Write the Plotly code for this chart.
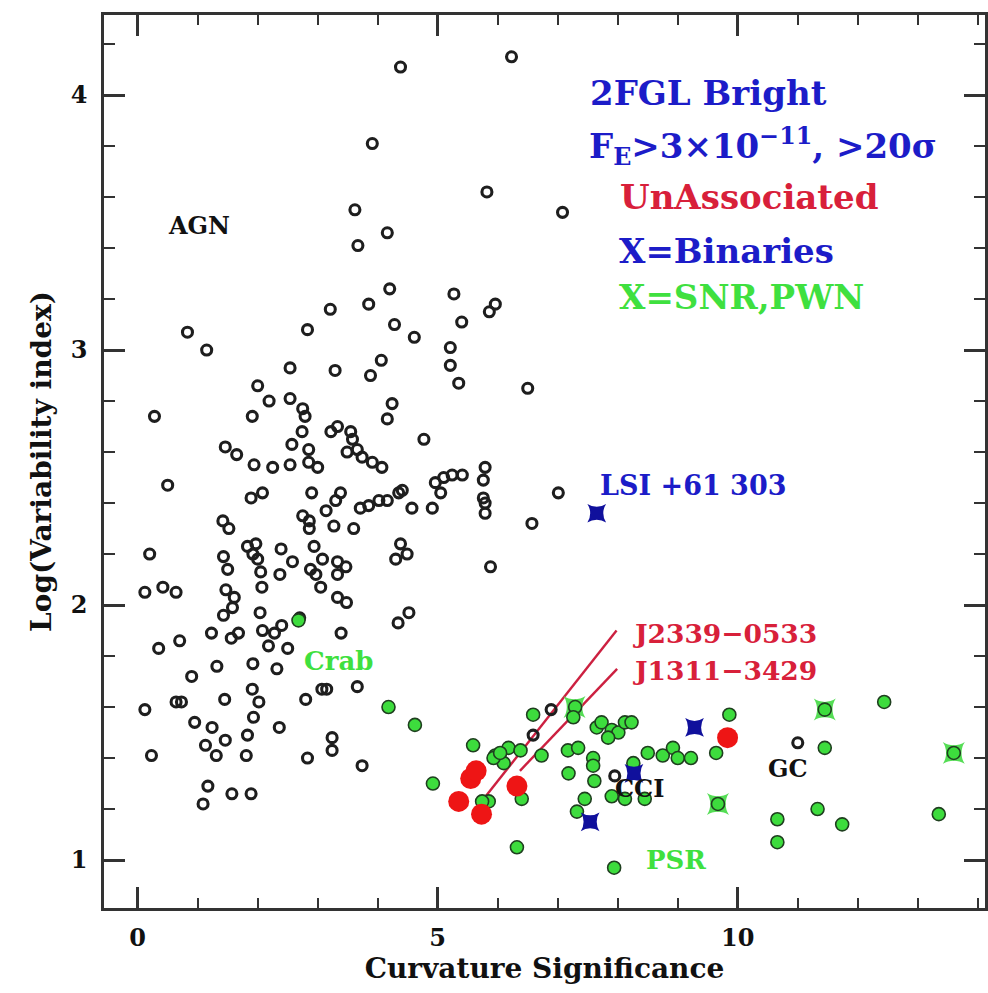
import plotly.graph_objects as go

# ---------------- data ----------------
agn_x = [4.38, 6.23, 3.91, 5.82, 7.08, 3.62, 4.16, 3.67, 4.20, 5.27, 3.21, 3.85, 4.28, 5.40, 5.86,
         5.96, 2.83, 0.83, 4.61, 1.15, 5.21, 5.21, 5.35, 2.54, 3.29, 4.06, 3.88, 2.00, 2.19, 2.54,
         2.75, 2.79, 1.91, 0.28, 4.24, 4.16, 6.50, 2.74, 2.57, 3.22, 3.33, 3.55, 3.58, 3.49, 3.66,
         3.74, 3.91, 4.07, 2.85, 2.85, 3.00, 2.54, 2.25, 1.94, 1.46, 1.65, 4.77, 0.50, 2.08, 1.89,
         2.90, 3.38, 3.30, 3.14, 2.75, 2.86, 2.86, 3.27, 3.60, 3.71, 3.85, 4.02, 4.16, 4.35, 4.41,
         4.57, 4.91, 4.96, 5.10, 5.24, 5.41, 5.05, 5.79, 5.76, 5.76, 5.79, 5.79, 5.88, 7.01, 6.57,
         1.42, 1.52, 0.20, 1.43, 1.50, 1.83, 1.97, 1.92, 2.00, 2.05, 2.39, 2.58, 2.37, 2.94, 3.08,
         2.88, 2.97, 3.05, 3.33, 3.47, 3.33, 4.38, 4.49, 4.30, 2.07, 0.12, 0.42, 0.64, 1.47, 1.61,
         1.58, 1.43, 3.33, 3.48, 4.52, 4.34, 2.04, 2.08, 2.28, 2.40, 2.18, 2.50, 3.39, 1.23, 1.56,
         1.68, 0.70, 0.35, 1.32, 1.92, 2.32, 0.90, 1.91, 2.02, 1.93, 1.45, 2.80, 3.07, 3.15, 3.66,
         0.12, 0.64, 0.73, 0.95, 1.24, 1.46, 1.13, 1.31, 1.83, 1.81, 2.36, 3.24, 3.24, 2.83, 3.74,
         0.23, 1.17, 1.09, 1.57, 1.89, 6.89, 6.59, 7.95, 11.00, 2.70]
agn_y = [4.11, 4.15, 3.81, 3.62, 3.54, 3.55, 3.46, 3.41, 3.24, 3.22, 3.16, 3.18, 3.10, 3.11, 3.15,
         3.18, 3.08, 3.07, 3.05, 3.00, 3.01, 2.94, 2.87, 2.93, 2.92, 2.96, 2.90, 2.86, 2.80, 2.81,
         2.77, 2.74, 2.74, 2.74, 2.79, 2.73, 2.85, 2.68, 2.63, 2.68, 2.70, 2.68, 2.65, 2.60, 2.61,
         2.58, 2.56, 2.54, 2.61, 2.56, 2.54, 2.55, 2.54, 2.55, 2.62, 2.59, 2.65, 2.47, 2.44, 2.42,
         2.44, 2.44, 2.41, 2.37, 2.35, 2.33, 2.30, 2.31, 2.30, 2.38, 2.39, 2.41, 2.41, 2.44, 2.45,
         2.38, 2.38, 2.48, 2.50, 2.51, 2.51, 2.44, 2.54, 2.49, 2.42, 2.40, 2.36, 2.15, 2.44, 2.32,
         2.33, 2.30, 2.20, 2.19, 2.14, 2.23, 2.24, 2.20, 2.18, 2.13, 2.22, 2.17, 2.12, 2.23, 2.18,
         2.14, 2.12, 2.07, 2.17, 2.15, 2.12, 2.24, 2.20, 2.18, 2.07, 2.05, 2.07, 2.05, 2.06, 2.03,
         1.99, 1.96, 2.03, 2.01, 1.97, 1.93, 1.97, 1.90, 1.89, 1.92, 1.84, 1.83, 1.89, 1.89, 1.87,
         1.89, 1.86, 1.83, 1.76, 1.77, 1.75, 1.72, 1.67, 1.62, 1.56, 1.63, 1.63, 1.67, 1.67, 1.68,
         1.59, 1.62, 1.62, 1.54, 1.52, 1.47, 1.45, 1.41, 1.49, 1.41, 1.52, 1.48, 1.43, 1.40, 1.37,
         1.41, 1.29, 1.22, 1.26, 1.26, 1.59, 1.49, 1.33, 1.46, 1.95]

psr_x = [2.68, 4.18, 4.62, 4.92, 5.59, 6.59, 7.29, 7.26, 6.18, 5.96, 6.10, 5.93, 6.38, 6.73, 5.85,
         5.74, 6.40, 6.32, 7.94, 7.17, 7.34, 7.18, 7.59, 7.59, 7.61, 7.65, 7.73, 7.90, 8.01, 8.12,
         8.23, 7.84, 7.45, 7.32, 8.26, 7.90, 8.12, 8.45, 8.50, 8.75, 8.92, 9.00, 9.22, 9.64, 9.86,
         9.67, 11.45, 11.45, 12.44, 13.60, 11.33, 10.66, 10.66, 11.74, 13.35, 6.04]
psr_y = [1.94, 1.60, 1.53, 1.30, 1.45, 1.57, 1.60, 1.56, 1.44, 1.41, 1.38, 1.40, 1.43, 1.41, 1.23,
         1.23, 1.24, 1.05, 0.97, 1.43, 1.44, 1.34, 1.40, 1.37, 1.31, 1.52, 1.54, 1.51, 1.50, 1.54,
         1.54, 1.48, 1.24, 1.19, 1.38, 1.25, 1.24, 1.24, 1.42, 1.41, 1.44, 1.40, 1.40, 1.42, 1.57,
         1.22, 1.59, 1.44, 1.62, 1.42, 1.20, 1.16, 1.07, 1.14, 1.18, 1.42]

snr_x = [7.28, 9.67, 11.45, 13.60]
snr_y = [1.60, 1.22, 1.59, 1.42]

bin_x = [7.65, 9.28, 8.27, 7.54]
bin_y = [2.36, 1.52, 1.34, 1.15]

unassoc_x = [5.55, 5.64, 5.35, 5.73, 6.32, 9.83]
unassoc_y = [1.32, 1.35, 1.23, 1.18, 1.29, 1.48]

ptr1_x = [5.80, 7.98]   # pointer to J2339-0533
ptr1_y = [1.25, 1.90]
ptr2_x = [6.37, 7.99]   # pointer to J1311-3429
ptr2_y = [1.35, 1.75]

x_major = [0, 5, 10]
y_major = [1, 2, 3, 4]

FONT = "DejaVu Serif"
BLUE = "#1c1cc8"
RED = "#d8203a"
GREEN = "#3fe03f"

fig = go.Figure()

fig.add_trace(go.Scatter(x=ptr1_x, y=ptr1_y, mode="lines",
                         line=dict(color="#cc2040", width=2.4), hoverinfo="skip"))
fig.add_trace(go.Scatter(x=ptr2_x, y=ptr2_y, mode="lines",
                         line=dict(color="#cc2040", width=2.4), hoverinfo="skip"))

fig.add_trace(go.Scatter(x=agn_x, y=agn_y, mode="markers", name="AGN",
                         marker=dict(symbol="circle-open", size=10, color="#1e1e1e",
                                     line=dict(width=3.1, color="#1e1e1e"))))

fig.add_trace(go.Scatter(x=snr_x, y=snr_y, mode="markers", name="SNR,PWN",
                         marker=dict(symbol="star-square", size=20, color="#55dd55")))

fig.add_trace(go.Scatter(x=psr_x, y=psr_y, mode="markers", name="PSR",
                         marker=dict(symbol="circle", size=13, color="#3ddc3d",
                                     line=dict(width=1.6, color="#1f3f1f"))))

fig.add_trace(go.Scatter(x=bin_x, y=bin_y, mode="markers", name="Binaries",
                         marker=dict(symbol="star-square", size=17, color="#10109c")))

fig.add_trace(go.Scatter(x=unassoc_x, y=unassoc_y, mode="markers", name="UnAssociated",
                         marker=dict(symbol="circle", size=21, color="#ee1515",
                                     line=dict(width=0))))


def label(x, y, text, color, size, anchor="left"):
    fig.add_annotation(x=x, y=y, xref="x", yref="y", text=text, showarrow=False,
                       xanchor=anchor, yanchor="middle",
                       font=dict(family=FONT, size=size, color=color, weight="bold"))


label(7.51, 4.01, "2FGL Bright", BLUE, 34)
label(7.48, 3.80, "F<sub>E</sub>&gt;3×10<sup>−11</sup>, &gt;20σ", BLUE, 34)
label(8.01, 3.60, "UnAssociated", RED, 34)
label(7.98, 3.39, "X=Binaries", BLUE, 34)
label(7.98, 3.21, "X=SNR,PWN", GREEN, 34)

label(1.03, 3.49, "AGN", "#111111", 24, "center")
label(3.34, 1.78, "Crab", GREEN, 26, "center")
label(7.67, 2.47, "LSI +61 303", BLUE, 27)
label(8.22, 1.89, "J2339−0533", RED, 26.5)
label(8.22, 1.745, "J1311−3429", RED, 26.5)
label(10.83, 1.36, "GC", "#111111", 24, "center")
label(8.36, 1.28, "CCI", "#111111", 24, "center")
label(8.97, 1.00, "PSR", GREEN, 26, "center")

axis_common = dict(
    showline=True, linecolor="#333333", linewidth=2.5, mirror="allticks",
    ticks="inside", ticklen=21, tickwidth=2.5, tickcolor="#333333",
    showgrid=False, zeroline=False,
    tickfont=dict(family=FONT, size=24, color="#111111", weight="bold"),
    title_font=dict(family=FONT, size=28, color="#111111", weight="bold"),
)

fig.update_xaxes(
    range=[-0.561, 14.12], tickvals=x_major, ticklabelstandoff=6,
    minor=dict(dtick=1, ticks="inside", ticklen=10, tickwidth=2, tickcolor="#333333"),
    title_text="Curvature Significance", title_standoff=8,
    **axis_common)
fig.update_yaxes(
    range=[0.812, 4.314], tickvals=y_major, ticklabelstandoff=9,
    minor=dict(dtick=0.2, tick0=0, ticks="inside", ticklen=11, tickwidth=2, tickcolor="#333333"),
    title_text="Log(Variability index)", title_standoff=11,
    **axis_common)

fig.update_layout(
    width=988, height=993,
    margin=dict(l=104, r=0, t=15, b=85),
    paper_bgcolor="white", plot_bgcolor="white",
    showlegend=False,
)

fig.write_html("out.html")
